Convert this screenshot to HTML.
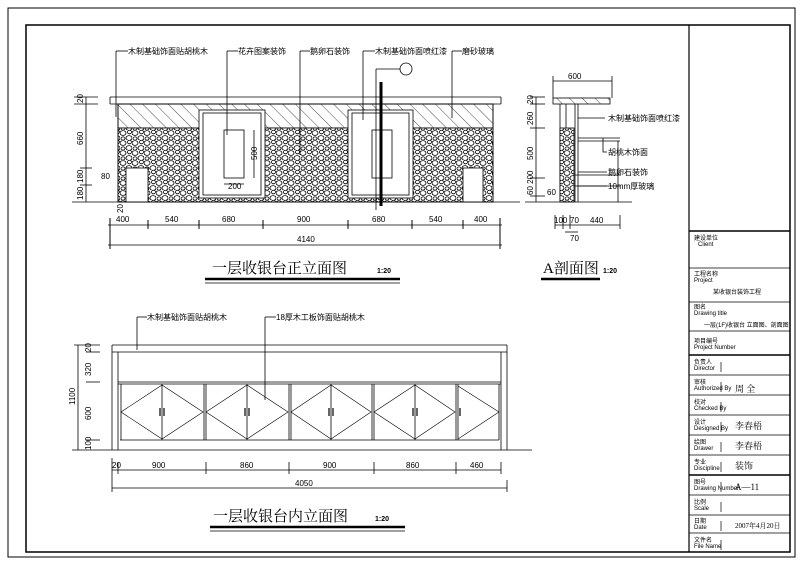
<!DOCTYPE html>
<html><head><meta charset="utf-8"><style>
html,body{margin:0;padding:0;background:#fff;}
svg{display:block;font-family:"Liberation Sans","Noto Sans CJK SC",sans-serif;}
.t{font-size:8px;fill:#000;}
.s{font-size:6px;fill:#000;}
</style></head><body>
<svg width="800" height="567" viewBox="0 0 800 567" xmlns="http://www.w3.org/2000/svg">
<defs>
<pattern id="hatch" width="9" height="9" patternUnits="userSpaceOnUse" patternTransform="rotate(-45)">
<line x1="0" y1="0" x2="0" y2="9" stroke="#000" stroke-width="0.7"/>
</pattern>
<pattern id="stone" width="12" height="10" patternUnits="userSpaceOnUse">
<rect width="12" height="10" fill="#fff"/>
<ellipse cx="3" cy="3" rx="3" ry="2.4" fill="none" stroke="#000" stroke-width="0.8"/>
<ellipse cx="9" cy="8" rx="3" ry="2.4" fill="none" stroke="#000" stroke-width="0.8"/>
<ellipse cx="9.5" cy="2" rx="2" ry="1.8" fill="none" stroke="#000" stroke-width="0.8"/>
<ellipse cx="3" cy="8.5" rx="2" ry="1.6" fill="none" stroke="#000" stroke-width="0.8"/>
</pattern>
</defs>
<rect width="800" height="567" fill="#fff"/>
<rect x="8" y="8" width="787" height="549" fill="none" stroke="#000" stroke-width="1"/>
<rect x="26" y="25" width="764" height="527" fill="none" stroke="#000" stroke-width="1.5"/>

<g stroke="#000" fill="none" stroke-width="0.8">
<!-- Front elevation -->
<line x1="110" y1="97" x2="501" y2="97"/>
<line x1="110" y1="104" x2="501" y2="104"/>
<line x1="110" y1="97" x2="110" y2="104"/><line x1="501" y1="97" x2="501" y2="104"/>
<rect x="118" y="104" width="375" height="24" fill="url(#hatch)"/>
<rect x="118" y="128" width="375" height="74" fill="url(#stone)"/>
<rect x="118" y="104" width="375" height="98"/>
<rect x="199" y="110" width="66" height="88" fill="#fff"/>
<rect x="203" y="113" width="58" height="82"/>
<rect x="348" y="110" width="65" height="88" fill="#fff"/>
<rect x="352" y="113" width="57" height="82"/>
<rect x="224" y="130" width="20" height="48" fill="#fff"/>
<rect x="372" y="130" width="20" height="48" fill="#fff"/>
<rect x="126" y="168" width="22" height="34" fill="#fff"/>
<rect x="463" y="168" width="20" height="34" fill="#fff"/>
<line x1="72" y1="202" x2="520" y2="202"/>
<line x1="381" y1="82" x2="381" y2="206" stroke-width="3"/>
<line x1="376" y1="69" x2="400" y2="69"/><line x1="376" y1="69" x2="376" y2="210"/>
<circle cx="406" cy="69" r="6"/>
<line x1="254" y1="130" x2="254" y2="178"/>
<line x1="224" y1="184" x2="244" y2="184"/>
<polyline points="116,51 128,51"/><line x1="116" y1="51" x2="116" y2="117"/>
<polyline points="227,51 238,51"/><line x1="227" y1="51" x2="227" y2="135"/>
<polyline points="300,51 310,51"/><line x1="300" y1="51" x2="300" y2="155"/>
<polyline points="363,51 375,51"/><line x1="363" y1="51" x2="363" y2="120"/>
<polyline points="452,51 462,51"/><line x1="452" y1="51" x2="452" y2="118"/>
<line x1="108" y1="225" x2="502" y2="225"/>
<line x1="108" y1="245" x2="502" y2="245"/>
<g stroke-width="1">
<line x1="110" y1="218" x2="110" y2="249"/><line x1="148" y1="220" x2="148" y2="229"/>
<line x1="199" y1="220" x2="199" y2="229"/><line x1="263" y1="220" x2="263" y2="229"/>
<line x1="348" y1="220" x2="348" y2="229"/><line x1="412" y1="220" x2="412" y2="229"/>
<line x1="463" y1="220" x2="463" y2="229"/><line x1="500" y1="218" x2="500" y2="249"/>
</g>
<line x1="86" y1="97" x2="86" y2="202"/>
<line x1="74" y1="97" x2="98" y2="97"/><line x1="74" y1="104" x2="98" y2="104"/>
<line x1="80" y1="168" x2="92" y2="168"/><line x1="80" y1="185" x2="92" y2="185"/>
<line x1="205" y1="279" x2="400" y2="279" stroke-width="2.5"/>
<line x1="205" y1="283" x2="400" y2="283"/>

<!-- Section A -->
<rect x="553" y="98" width="57" height="6" fill="url(#hatch)"/>
<line x1="560" y1="104" x2="560" y2="202"/><line x1="566" y1="104" x2="566" y2="202"/>
<line x1="575" y1="104" x2="575" y2="202"/><line x1="578" y1="104" x2="578" y2="202"/>
<rect x="560" y="128" width="14" height="74" fill="url(#stone)"/>
<line x1="578" y1="138" x2="620" y2="138"/><line x1="578" y1="141" x2="620" y2="141"/>
<line x1="618" y1="141" x2="618" y2="202"/><line x1="575" y1="175" x2="620" y2="175"/>
<line x1="575" y1="186" x2="620" y2="186"/>
<line x1="525" y1="202" x2="632" y2="202"/>
<line x1="553" y1="81" x2="612" y2="81"/><line x1="553" y1="76" x2="553" y2="98"/><line x1="612" y1="76" x2="612" y2="98"/>
<line x1="536" y1="97" x2="536" y2="202"/>
<line x1="530" y1="97" x2="545" y2="97"/><line x1="530" y1="104" x2="545" y2="104"/>
<line x1="530" y1="128" x2="545" y2="128"/><line x1="530" y1="178" x2="545" y2="178"/>
<line x1="530" y1="196" x2="545" y2="196"/>
<line x1="555" y1="225" x2="620" y2="225"/>
<line x1="555" y1="215" x2="555" y2="229"/><line x1="563" y1="215" x2="563" y2="229"/>
<line x1="570" y1="215" x2="570" y2="229"/><line x1="620" y1="215" x2="620" y2="229"/>
<line x1="565" y1="232" x2="578" y2="232"/>
<polyline points="578,118 605,118"/><polyline points="603,138 603,152 607,152"/>
<polyline points="578,172 607,172"/><polyline points="578,186 607,186"/>
<line x1="541" y1="279" x2="600" y2="279" stroke-width="2.5"/>

<!-- Inner elevation -->
<line x1="112" y1="345" x2="507" y2="345"/>
<line x1="112" y1="352" x2="507" y2="352"/>
<line x1="112" y1="345" x2="112" y2="450"/><line x1="118" y1="352" x2="118" y2="450"/>
<line x1="501" y1="352" x2="501" y2="450"/><line x1="507" y1="345" x2="507" y2="450"/>
<line x1="118" y1="382" x2="501" y2="382"/><line x1="118" y1="384" x2="501" y2="384"/>
<line x1="120" y1="440" x2="499" y2="440"/>
<line x1="72" y1="450" x2="532" y2="450"/>
<g>
<line x1="121" y1="384" x2="121" y2="440"/><line x1="204" y1="384" x2="204" y2="440"/>
<line x1="206" y1="384" x2="206" y2="440"/><line x1="289" y1="384" x2="289" y2="440"/>
<line x1="291" y1="384" x2="291" y2="440"/><line x1="372" y1="384" x2="372" y2="440"/>
<line x1="374" y1="384" x2="374" y2="440"/><line x1="456" y1="384" x2="456" y2="440"/>
<line x1="458" y1="384" x2="458" y2="440"/><line x1="499" y1="384" x2="499" y2="440"/>
<line x1="162" y1="384" x2="162" y2="440"/><line x1="247" y1="384" x2="247" y2="440"/>
<line x1="331" y1="384" x2="331" y2="440"/><line x1="415" y1="384" x2="415" y2="440"/>
</g>
<g stroke-width="0.6">
<polyline points="121,412 162,385 203,412 162,439 121,412"/>
<polyline points="206,412 247,385 288,412 247,439 206,412"/>
<polyline points="291,412 331,385 371,412 331,439 291,412"/>
<polyline points="374,412 415,385 455,412 415,439 374,412"/>
<polyline points="458,386 499,412 458,439"/>
</g>
<g stroke-width="1.2">
<line x1="160" y1="408" x2="160" y2="416"/><line x1="164" y1="408" x2="164" y2="416"/>
<line x1="245" y1="408" x2="245" y2="416"/><line x1="249" y1="408" x2="249" y2="416"/>
<line x1="329" y1="408" x2="329" y2="416"/><line x1="333" y1="408" x2="333" y2="416"/>
<line x1="413" y1="408" x2="413" y2="416"/><line x1="417" y1="408" x2="417" y2="416"/>
<line x1="460" y1="408" x2="460" y2="416"/>
</g>
<line x1="137" y1="317" x2="147" y2="317"/><line x1="137" y1="317" x2="137" y2="350"/>
<line x1="265" y1="317" x2="276" y2="317"/><line x1="265" y1="317" x2="265" y2="400"/>
<line x1="78" y1="345" x2="78" y2="450"/>
<line x1="74" y1="345" x2="100" y2="345"/><line x1="86" y1="352" x2="100" y2="352"/>
<line x1="86" y1="382" x2="100" y2="382"/><line x1="86" y1="440" x2="100" y2="440"/>
<line x1="112" y1="470" x2="501" y2="470"/><line x1="112" y1="488" x2="507" y2="488"/>
<line x1="112" y1="458" x2="112" y2="492"/><line x1="118" y1="462" x2="118" y2="474"/>
<line x1="206" y1="462" x2="206" y2="474"/><line x1="289" y1="462" x2="289" y2="474"/>
<line x1="374" y1="462" x2="374" y2="474"/><line x1="456" y1="462" x2="456" y2="474"/>
<line x1="501" y1="462" x2="501" y2="474"/><line x1="507" y1="480" x2="507" y2="492"/>
<line x1="210" y1="527" x2="405" y2="527" stroke-width="2.5"/>
<line x1="210" y1="531" x2="405" y2="531"/>

<!-- Title block -->
<line x1="689" y1="25" x2="689" y2="552" stroke-width="1.2"/>
<line x1="689" y1="231" x2="790" y2="231" stroke-width="1.5"/>
<line x1="689" y1="268" x2="790" y2="268"/><line x1="689" y1="302" x2="790" y2="302"/>
<line x1="689" y1="331" x2="790" y2="331"/><line x1="689" y1="355" x2="790" y2="355" stroke-width="1.5"/>
<line x1="689" y1="375" x2="790" y2="375"/><line x1="689" y1="395" x2="790" y2="395"/>
<line x1="689" y1="415" x2="790" y2="415"/><line x1="689" y1="435" x2="790" y2="435"/>
<line x1="689" y1="455" x2="790" y2="455"/><line x1="689" y1="475" x2="790" y2="475" stroke-width="1.5"/>
<line x1="689" y1="495" x2="790" y2="495"/><line x1="689" y1="515" x2="790" y2="515"/>
<line x1="689" y1="533" x2="790" y2="533"/>
<g stroke-width="0.7">
<line x1="721" y1="362" x2="721" y2="372"/><line x1="721" y1="382" x2="721" y2="392"/>
<line x1="721" y1="402" x2="721" y2="412"/><line x1="721" y1="422" x2="721" y2="432"/>
<line x1="721" y1="442" x2="721" y2="452"/><line x1="721" y1="462" x2="721" y2="472"/>
<line x1="721" y1="482" x2="721" y2="492"/><line x1="721" y1="502" x2="721" y2="512"/>
<line x1="721" y1="521" x2="721" y2="531"/><line x1="721" y1="540" x2="721" y2="550"/>
</g>
</g>

<g class="t">
<text x="128" y="54">木制基础饰面贴胡桃木</text>
<text x="238" y="54">花卉图案装饰</text>
<text x="310" y="54">鹅卵石装饰</text>
<text x="375" y="54">木制基础饰面喷红漆</text>
<text x="462" y="54">磨砂玻璃</text>
<text x="116" y="222">400</text><text x="165" y="222">540</text><text x="222" y="222">680</text>
<text x="297" y="222">900</text><text x="372" y="222">680</text><text x="429" y="222">540</text>
<text x="474" y="222">400</text><text x="297" y="242">4140</text>
<text x="228" y="189">200</text>
<text x="101" y="179">80</text>
<text transform="translate(257,160) rotate(-90)">500</text>
<text transform="translate(83,103) rotate(-90)">20</text>
<text transform="translate(83,145) rotate(-90)">660</text>
<text transform="translate(83,183) rotate(-90)">180</text>
<text transform="translate(83,200) rotate(-90)">180</text>
<text transform="translate(123,213) rotate(-90)">20</text>
<text x="568" y="79">600</text>
<text x="608" y="121">木制基础饰面喷红漆</text>
<text x="608" y="155">胡桃木饰面</text>
<text x="608" y="175">鹅卵石装饰</text>
<text x="608" y="189">10mm厚玻璃</text>
<text x="547" y="195">60</text>
<text x="554" y="223">100</text><text x="570" y="223">70</text><text x="590" y="223">440</text>
<text x="570" y="241">70</text>
<text transform="translate(533,104) rotate(-90)">20</text>
<text transform="translate(533,125) rotate(-90)">260</text>
<text transform="translate(533,160) rotate(-90)">500</text>
<text transform="translate(533,195) rotate(-90)">60 200</text>
<text x="147" y="320">木制基础饰面贴胡桃木</text>
<text x="276" y="320">18厚木工板饰面贴胡桃木</text>
<text x="152" y="468">900</text><text x="240" y="468">860</text><text x="323" y="468">900</text>
<text x="406" y="468">860</text><text x="470" y="468">460</text><text x="295" y="486">4050</text>
<text x="112" y="468">20</text>
<text transform="translate(75,405) rotate(-90)">1100</text>
<text transform="translate(91,352) rotate(-90)">20</text>
<text transform="translate(91,376) rotate(-90)">320</text>
<text transform="translate(91,420) rotate(-90)">600</text>
<text transform="translate(91,450) rotate(-90)">100</text>
</g>
<text x="212" y="273" font-size="15" font-family="Liberation Serif,'Noto Serif CJK SC',serif">一层收银台正立面图</text>
<text x="377" y="273" font-size="7" font-weight="bold">1:20</text>
<text x="543" y="273" font-size="15" font-family="Liberation Serif,'Noto Serif CJK SC',serif">A剖面图</text>
<text x="603" y="273" font-size="7" font-weight="bold">1:20</text>
<text x="213" y="521" font-size="15" font-family="Liberation Serif,'Noto Serif CJK SC',serif">一层收银台内立面图</text>
<text x="375" y="521" font-size="7" font-weight="bold">1:20</text>
<g class="s">
<text x="694" y="240">建设单位</text><text x="698" y="246">Client</text>
<text x="694" y="276">工程名称</text><text x="694" y="282">Project</text>
<text x="713" y="294">某收银台装饰工程</text>
<text x="694" y="309">图名</text><text x="694" y="315">Drawing title</text>
<text x="704" y="327">一层(1F)收银台 立面图、剖面图</text>
<text x="694" y="343">项目编号</text><text x="694" y="349">Project Number</text>
<text x="694" y="364">负责人</text><text x="694" y="370">Director</text>
<text x="694" y="384">审核</text><text x="694" y="390">Authorized By</text>
<text x="694" y="404">校对</text><text x="694" y="410">Checked By</text>
<text x="694" y="424">设计</text><text x="694" y="430">Designed By</text>
<text x="694" y="444">绘图</text><text x="694" y="450">Drawer</text>
<text x="694" y="464">专业</text><text x="694" y="470">Discipline</text>
<text x="694" y="484">图号</text><text x="694" y="490">Drawing Number</text>
<text x="694" y="504">比例</text><text x="694" y="510">Scale</text>
<text x="694" y="523">日期</text><text x="694" y="529">Date</text>
<text x="694" y="542">文件名</text><text x="694" y="548">File Name</text>
</g>
<g font-size="9" fill="#000" font-family="Liberation Serif,'Noto Serif CJK SC',serif">
<text x="735" y="392">周 全</text>
<text x="735" y="429">李春梧</text>
<text x="735" y="449">李春梧</text>
<text x="735" y="469">装饰</text>
<text x="735" y="490">A—11</text>
<text x="735" y="528" font-size="7">2007年4月20日</text>
</g>
</svg>
</body></html>
